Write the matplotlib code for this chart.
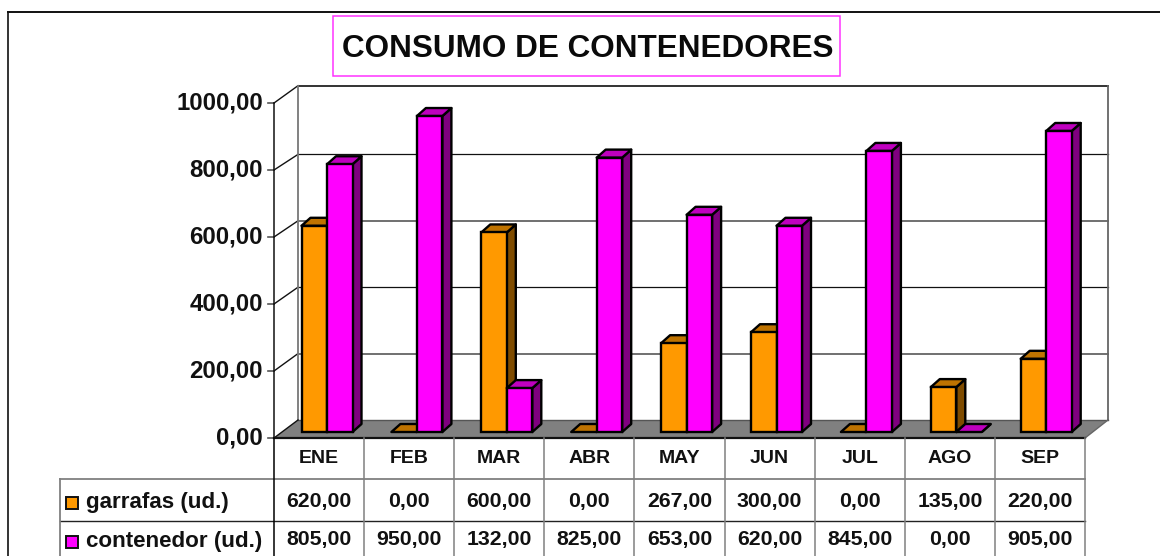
import matplotlib
matplotlib.use("Agg")
import matplotlib.pyplot as plt
from matplotlib.patches import Polygon, Rectangle

months = ["ENE", "FEB", "MAR", "ABR", "MAY", "JUN", "JUL", "AGO", "SEP"]
garrafas = [620, 0, 600, 0, 267, 300, 0, 135, 220]
contenedor = [805, 950, 132, 825, 653, 620, 845, 0, 905]
yticks = [0, 200, 400, 600, 800, 1000]
series_names = ["garrafas (ud.)", "contenedor (ud.)"]

ORANGE, ORANGE_TOP, ORANGE_SIDE = "#FF9900", "#BF7300", "#7F4C00"
MAG, MAG_TOP, MAG_SIDE = "#FF00FF", "#BF00BF", "#7F007F"
GREY = "#808080"
INK = "#111111"

W, H = 1160, 556
plt.rcParams["font.family"] = ["Liberation Sans", "DejaVu Sans"]
plt.rcParams["font.weight"] = "bold"
fig = plt.figure(figsize=(W / 100, H / 100), dpi=100)

# pixel-space axes for the chart frame, walls and data table
ov = fig.add_axes([0, 0, 1, 1], zorder=1)
ov.set_xlim(0, W); ov.set_ylim(H, 0); ov.axis("off")

# projected planes of the 3-D box
L, R = 274, 1085
BL, BR = 298, 1108
y_front = lambda v: 438 - 0.335 * v
y_wall = lambda v: 420 - 0.332 * v
WALL_TOP = 85.7

# floor
ov.add_patch(Polygon([(L, 438), (R, 438), (BR, 420), (BL, 420)], fc=GREY, ec="none", zorder=1))
ov.plot([BL, BR], [420, 420], color="#555555", lw=1.0, zorder=1.5)
ov.plot([L, BL], [438, 420], color="#111111", lw=1.0, zorder=1.5)
ov.plot([R, BR], [438, 420], color="#666666", lw=1.0, zorder=1.5)
ov.plot([L, R], [438, 438], color="#111111", lw=1.6, zorder=1.6)

# walls, gridlines, ticks
for v in yticks:
    yf = y_front(v)
    yw = y_wall(v) if v < 1000 else WALL_TOP
    ov.plot([L - 6, L], [yf, yf], color="#555555", lw=1.2, zorder=1)
    ov.text(L - 11, yf, f"{v:.2f}".replace(".", ","), ha="right", va="center",
            fontsize=17.3, fontweight="bold", color=INK)
    if v == 0:
        continue
    ov.plot([L, BL], [yf, yw], color="#111111", lw=1.0, zorder=1)
    if v == 1000:
        ov.plot([BL, BR], [yw, yw], color="#333333", lw=1.4, zorder=1)
    elif v in (800, 400):
        ov.plot([BL, BR], [yw, yw], color="#111111", lw=0.9, zorder=1)
    else:
        ov.plot([BL, BR], [yw, yw], color="#707070", lw=1.4, zorder=1)
ov.plot([L, L], [y_front(1000), 438], color="#111111", lw=1.1, zorder=1)
ov.plot([BL, BL], [WALL_TOP, 420], color="#777777", lw=1.3, zorder=1)
ov.plot([BR, BR], [WALL_TOP, 420], color="#666666", lw=1.3, zorder=1)

# bars axes: categories spaced 89.9 px, value scale 0.3326 px/unit, baseline at y=432
BW_AX = 809.1
BL_AX = 282.05
BH_AX = 332.6
ax = fig.add_axes([BL_AX / W, 1 - 432 / H, BW_AX / W, BH_AX / H], zorder=2)
ax.set_xlim(-0.5, 8.5); ax.set_ylim(0, 1000)
ax.axis("off")
pxx = 9 / BW_AX
pxy = 1000 / BH_AX
bw = 25.5 * pxx
d_dx, d_dy = 9 * pxx, 8 * pxy
kw = dict(clip_on=False)

def bar3d(left, val, front, top, side, z):
    r = left + bw
    ax.add_patch(Polygon([(r, 0), (r + d_dx, d_dy), (r + d_dx, val + d_dy), (r, val)],
                         fc=side, ec="black", lw=1.7, zorder=z, joinstyle="round", **kw))
    ax.add_patch(Polygon([(left, val), (r, val), (r + d_dx, val + d_dy), (left + d_dx, val + d_dy)],
                         fc=top, ec="black", lw=1.7, zorder=z, joinstyle="round", **kw))
    if val > 0:
        ax.bar(left, val, bw, align="edge", color=front, edgecolor="black",
               linewidth=1.7, zorder=z + 0.1, clip_on=False)

for i in range(len(months)):
    bar3d(i - bw, garrafas[i], ORANGE, ORANGE_TOP, ORANGE_SIDE, 3 + i * 2)
    bar3d(i, contenedor[i], MAG, MAG_TOP, MAG_SIDE, 4 + i * 2)

# outer frame (top and left only are visible)
ov.plot([7.5, 7.5], [H + 5, 12], color="#111111", lw=1.2, clip_on=False)
ov.plot([7.5, W + 5], [12, 12], color="#111111", lw=1.4, clip_on=False)

# title
ov.add_patch(Rectangle((332.5, 15.5), 507, 60.5, fc="white", ec="#FF33FF", lw=1.1))
ov.text(587.5, 49, "CONSUMO DE CONTENEDORES", ha="center", va="center", fontsize=22.7,
        fontweight="bold", color="#0a0a0a")

# data table
TX = [L + (R - L) * i / 9 for i in range(10)]
ov.plot([60, R], [479, 479], color=GREY, lw=1.3)
ov.plot([60, R], [520.5, 520.5], color="#222222", lw=1.0)
ov.plot([60, 60], [479, H + 2], color=GREY, lw=1.3, clip_on=False)
for i, x in enumerate(TX):
    ov.plot([x, x], [438, H + 2], color="#000000" if i == 0 else GREY, lw=1.1, clip_on=False)
for i, m in enumerate(months):
    xc = (TX[i] + TX[i + 1]) / 2
    ov.text(xc, 458.5, m, ha="center", va="center", fontsize=14, fontweight="bold", color=INK)
    ov.text(xc, 501.5, f"{garrafas[i]:.2f}".replace(".", ","), ha="center", va="center",
            fontsize=15.3, fontweight="bold", color=INK)
    ov.text(xc, 539.5, f"{contenedor[i]:.2f}".replace(".", ","), ha="center", va="center",
            fontsize=15.3, fontweight="bold", color=INK)
for name, fc, yc in zip(series_names, [ORANGE, MAG], [502.5, 541.5]):
    ov.add_patch(Rectangle((66, yc - 6), 12, 12, fc=fc, ec=INK, lw=1.4))
    ov.text(86, yc, name, ha="left", va="center", fontsize=16.1, fontweight="bold", color=INK)

fig.savefig("out.png", dpi=100, facecolor="white")
